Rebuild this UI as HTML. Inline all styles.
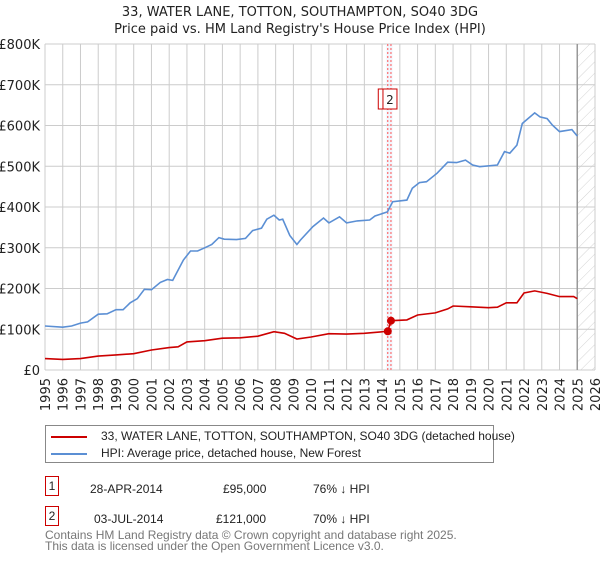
<!DOCTYPE html>
<html><head><meta charset="utf-8"><style>
body{margin:0;background:#fff;font-family:"Liberation Sans","DejaVu Sans",sans-serif;}
svg text{font-family:"DejaVu Sans","Liberation Sans",sans-serif;}
.nw{white-space:nowrap;}
</style></head><body>
<svg id="c" width="600" height="560" viewBox="0 0 600 560">
<defs><pattern id="hatch" width="8" height="8" patternUnits="userSpaceOnUse" patternTransform="rotate(45)"><line x1="0" y1="0" x2="0" y2="8" stroke="#d4d4d4" stroke-width="1"/></pattern></defs>
<text x="300" y="16" text-anchor="middle" font-size="13" fill="#222">33, WATER LANE, TOTTON, SOUTHAMPTON, SO40 3DG</text>
<text x="300" y="33" text-anchor="middle" font-size="13" fill="#222">Price paid vs. HM Land Registry's House Price Index (HPI)</text>
<g id="grid"></g><g id="marks"></g>
</svg>
<script>
const yTicks=[0,100000,200000,300000,400000,500000,600000,700000,800000];
const yTickLabels=["£0","£100K","£200K","£300K","£400K","£500K","£600K","£700K","£800K"];
const xTicks=[1995,1996,1997,1998,1999,2000,2001,2002,2003,2004,2005,2006,2007,2008,2009,2010,2011,2012,2013,2014,2015,2016,2017,2018,2019,2020,2021,2022,2023,2024,2025,2026];
const hpiYears=[1995,1996,1996.5,1997,1997.4,1998,1998.5,1999,1999.4,1999.8,2000.2,2000.6,2001,2001.5,2001.9,2002.2,2002.8,2003.2,2003.6,2004,2004.4,2004.8,2005.1,2005.8,2006.3,2006.7,2007.2,2007.5,2007.9,2008.2,2008.4,2008.8,2009.2,2009.4,2010.1,2010.7,2011,2011.6,2012,2012.6,2013.3,2013.6,2014.3,2014.6,2015.4,2015.7,2016.1,2016.5,2017.1,2017.7,2018.2,2018.7,2019.1,2019.5,2020.5,2020.9,2021.2,2021.6,2021.9,2022.6,2022.9,2023.3,2023.6,2024,2024.7,2025];
const hpiValues=[108,105,108,115,118,137,138,148,148,165,175,198,197,215,222,220,270,292,292,300,308,325,321,320,323,342,348,370,380,368,370,330,308,319,352,373,361,376,361,366,368,378,388,413,417,446,460,462,483,510,509,515,503,499,503,536,532,552,605,631,621,617,601,585,590,574];
const ppYears=[1995,1996,1997,1998,1999,2000,2001,2002,2002.5,2003,2004,2005,2006,2007,2007.9,2008.5,2009.2,2010,2011,2012,2013,2014.32,2014.5,2015.4,2016,2017,2017.7,2018,2019,2020,2020.5,2021,2021.6,2022,2022.6,2023.3,2024,2024.8,2025];
const ppValues=[28,26,28,34,37,40,49,55,57,69,72,78,79,83,94,90,76,81,89,88,90,95,121,123,135,140,150,157,155,153,154,165,165,189,194,188,180,180,175];
const sales=[{n:"1",year:2014.32,v:95000},{n:"2",year:2014.5,v:121000}];
const X=y=>45+(y-1995)*550/31, Y=v=>370-v/800000*326;
const NS="http://www.w3.org/2000/svg";
const g=document.getElementById('grid'), m=document.getElementById('marks');
function mk(p,tag,at){const e=document.createElementNS(NS,tag);for(const k in at)e.setAttribute(k,at[k]);p.appendChild(e);return e;}
const hatch=mk(g,'rect',{x:X(2025),y:44,width:595-X(2025),height:326,fill:'url(#hatch)'});


yTicks.forEach((t,i)=>{
 const l=mk(g,'line',{x1:45,x2:595,y1:Y(t),y2:Y(t),stroke:'#ccc','stroke-width':1});
 
 
 const tx=mk(g,'text',{x:40,y:Y(t)+5,'text-anchor':'end','font-size':13,fill:'#222'});tx.textContent=yTickLabels[i];
 
 
});
xTicks.forEach(t=>{
 const l=mk(g,'line',{x1:X(t),x2:X(t),y1:44,y2:370,stroke:'#ccc','stroke-width':1});
 
 
 const tx=mk(g,'text',{x:0,y:0,'text-anchor':'end','font-size':13,fill:'#222',transform:`translate(${X(t)+5},378) rotate(-90)`});tx.textContent=t;
 
 
});
const vl=mk(g,'line',{x1:X(2025),x2:X(2025),y1:44,y2:370,stroke:'#999','stroke-width':1.5});


sales.forEach(s=>{
 mk(m,'rect',{x:X(s.year)-1.5,y:44,width:3,height:326,fill:'#e8eefa',opacity:0.6});
 const d=mk(m,'line',{x1:X(s.year),x2:X(s.year),y1:44,y2:370,stroke:'#f55','stroke-width':1,'stroke-dasharray':'2,2'});
 
 
});
function path(xs,vs,col,name){
 const d=xs.map((x,i)=>(i?'L':'M')+X(x).toFixed(1)+','+Y(vs[i]*1000).toFixed(1)).join('');
 const p=mk(m,'path',{d:d,fill:'none',stroke:col,'stroke-width':1.6});
 
 
}
path(hpiYears,hpiValues,'#5b8fd4','hpi-line');
path(ppYears,ppValues,'#cc0000','price-paid-line');
sales.forEach(s=>{
 const c=mk(m,'circle',{cx:X(s.year),cy:Y(s.v),r:4,fill:'#cc0000'});
 
 
});
sales.forEach((s,i)=>{
 const bx=X(s.year)-(i?1:2.5);
 const r=mk(m,'rect',{x:bx-7,y:89,width:14,height:20,fill:'#fff',stroke:'#cc0000','stroke-width':1});
 
 
 const t=mk(m,'text',{x:bx,y:104,'text-anchor':'middle','font-size':12,fill:'#222'});t.textContent=s.n;
 
 
});
</script>
<div style="position:absolute;left:45px;top:425px;width:447px;height:36px;border:1px solid #888;font-size:12px;color:#222;">
 <div class="nw" style="position:absolute;left:5px;top:3px;"><span style="display:inline-block;width:36px;height:2px;background:#cc0000;vertical-align:middle;margin-right:14px;"></span>33, WATER LANE, TOTTON, SOUTHAMPTON, SO40 3DG (detached house)</div>
 <div class="nw" style="position:absolute;left:5px;top:20px;"><span style="display:inline-block;width:36px;height:2px;background:#5b8fd4;vertical-align:middle;margin-right:14px;"></span>HPI: Average price, detached house, New Forest</div>
</div>
<div style="position:absolute;left:0;top:0;font-size:12px;color:#222;">
 <div>
  <span class="nw" style="position:absolute;left:45px;top:476px;width:12px;height:18px;border:1px solid #cc0000;text-align:center;line-height:18px;">1</span>
  <span class="nw" style="position:absolute;left:90px;top:482px;">28-APR-2014</span>
  <span class="nw" style="position:absolute;left:223px;top:482px;">£95,000</span>
  <span class="nw" style="position:absolute;left:313px;top:482px;">76% ↓ HPI</span>
 </div>
 <div>
  <span class="nw" style="position:absolute;left:45px;top:506px;width:12px;height:18px;border:1px solid #cc0000;text-align:center;line-height:18px;">2</span>
  <span class="nw" style="position:absolute;left:94px;top:512px;">03-JUL-2014</span>
  <span class="nw" style="position:absolute;left:216px;top:512px;">£121,000</span>
  <span class="nw" style="position:absolute;left:313px;top:512px;">70% ↓ HPI</span>
 </div>
</div>
<div class="nw" style="position:absolute;left:45px;top:530px;font-size:12px;color:#777;line-height:11px;">Contains HM Land Registry data © Crown copyright and database right 2025.<br>This data is licensed under the Open Government Licence v3.0.</div>
</body></html>
